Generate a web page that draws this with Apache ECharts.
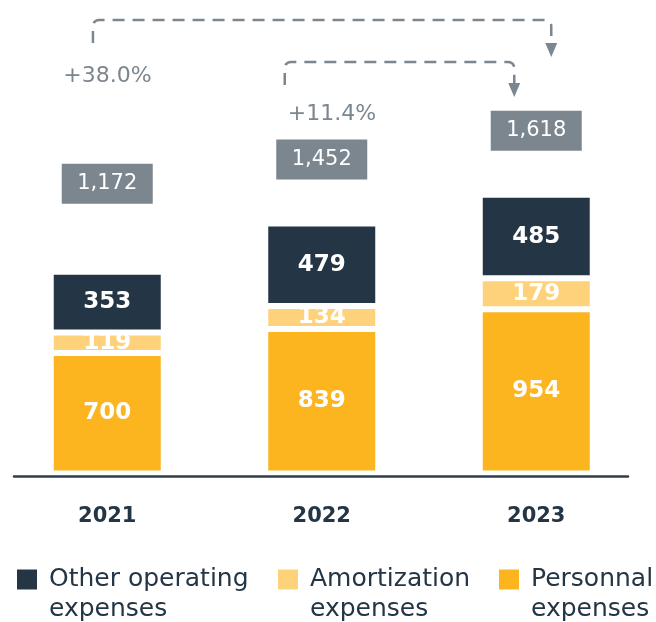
<!DOCTYPE html>
<html><head><meta charset="utf-8">
<script src="https://cdn.jsdelivr.net/npm/echarts@6/dist/echarts.min.js"></script>
<style>html,body{margin:0;padding:0;background:#fff}#c{width:656px;height:622px}</style>
</head><body><div id="c"></div>
<script>
// ---- data ----
const years = ['2021', '2022', '2023'];
const personnel = [700, 839, 954];
const amortization = [119, 134, 179];
const otherOperating = [353, 479, 485];
const totals = [1172, 1452, 1618];
const growthLabels = ['+38.0%', '+11.4%'];
const seriesNames = ['Other operating expenses', 'Amortization expenses', 'Personnal expenses'];

// ---- styles ----
const FONT = 'DejaVu Sans';
const DARK = '#243646';
const LIGHT = '#fed27a';
const ORANGE = '#fdb51f';
const GRAY = '#7c868f';
const totalOffsets = [-88, -64, -64];
const legendLefts = [15, 276, 497];

const chart = echarts.init(document.getElementById('c'), null, {renderer: 'canvas'});

const barCommon = {
  type: 'bar', stack: 'total', barWidth: 113,
  xAxisIndex: 0, yAxisIndex: 0,
  itemStyle: {borderColor: '#fff', borderWidth: 3},
  label: {show: true, position: 'inside', color: '#fff', fontFamily: FONT, fontSize: 23, fontWeight: 'bold'},
  emphasis: {disabled: true}
};

chart.setOption({
  animation: false,
  backgroundColor: '#fff',
  grid: [
    {left: -1.5, right: 12.5, top: 8.5, bottom: 148.5},
    {left: 14, right: 28, top: 10, bottom: 146}
  ],
  xAxis: [
    {type: 'category', gridIndex: 0, data: years,
     axisLine: {show: false}, axisTick: {show: false},
     axisLabel: {color: DARK, fontFamily: FONT, fontSize: 21, fontWeight: 'bold', margin: 33}},
    {type: 'value', gridIndex: 1, min: 0, max: 1,
     axisLine: {show: true, lineStyle: {color: '#2e3e4c', width: 2.5}},
     axisTick: {show: false}, axisLabel: {show: false}, splitLine: {show: false}}
  ],
  yAxis: [
    {type: 'value', gridIndex: 0, min: 0, max: 2700, show: false},
    {type: 'value', gridIndex: 1, min: 0, max: 1, show: false}
  ],
  legend: seriesNames.map((n, i) => ({
    data: [n], left: legendLefts[i], top: 537, padding: 0, selectedMode: false,
    icon: 'rect', itemWidth: 22, itemHeight: 22,
    formatter: name => {
      const parts = name.replace(' expenses', '\nexpenses').split('\n');
      return '{s|}\n' + parts.map(p => '{s|}{t|' + p + '}').join('\n');
    },
    textStyle: {
      rich: {
        s: {width: 6, lineHeight: 30, fontSize: 25, fontFamily: FONT},
        t: {fontFamily: FONT, fontSize: 25, color: DARK, lineHeight: 30}
      }
    }
  })),
  series: [
    Object.assign({}, barCommon, {name: seriesNames[2], data: personnel, itemStyle: Object.assign({}, barCommon.itemStyle, {color: ORANGE})}),
    Object.assign({}, barCommon, {name: seriesNames[1], data: amortization, itemStyle: Object.assign({}, barCommon.itemStyle, {color: LIGHT})}),
    Object.assign({}, barCommon, {name: seriesNames[0], data: otherOperating, itemStyle: Object.assign({}, barCommon.itemStyle, {color: DARK})}),
    {
      type: 'scatter', name: 'total', xAxisIndex: 0, yAxisIndex: 0,
      symbolSize: 1, itemStyle: {color: 'rgba(0,0,0,0)', opacity: 1}, silent: true,
      data: totals.map((v, i) => ({value: v, label: {offset: [0, totalOffsets[i]]}})),
      label: {
        show: true, position: 'inside',
        formatter: p => p.value.toLocaleString('en-US'),
        color: '#fff', fontFamily: FONT, fontSize: 21,
        backgroundColor: GRAY, width: 91, height: 40, lineHeight: 40, align: 'center', verticalAlign: 'middle'
      }
    }
  ]
});

// ---- growth annotations (arrows) ----
const cx = years.map((y, i) => chart.convertToPixel({gridIndex: 0}, [i, 0])[0]);
function corner(cxp, cyp, r, a0, a1) {
  const pts = [];
  for (let k = 0; k <= 6; k++) {
    const a = a0 + (a1 - a0) * k / 6;
    pts.push([cxp + r * Math.cos(a), cyp + r * Math.sin(a)]);
  }
  return pts;
}
function arrow(sx, by, ty, ex, tip) {
  const r = 6, head = 14;
  const pts = [[sx, by]]
    .concat(corner(sx + r, ty + r, r, Math.PI, 1.5 * Math.PI))
    .concat(corner(ex - r, ty + r, r, 1.5 * Math.PI, 2 * Math.PI))
    .concat([[ex, tip - head]]);
  return [
    {type: 'polyline', shape: {points: pts},
     style: {fill: null, stroke: GRAY, lineWidth: 2.5, lineDash: [12, 8]}},
    {type: 'polygon', shape: {points: [[ex - 6, tip - head], [ex + 6, tip - head], [ex, tip]]},
     style: {fill: GRAY}}
  ];
}
const g = [];
g.push(...arrow(cx[0] - 14.3, 43, 20, cx[2] + 15, 57));
g.push(...arrow(cx[1] - 37, 85, 62, cx[2] - 22, 97));
g.push({type: 'text', x: cx[0] - 44, y: 76, style: {text: growthLabels[0], fill: GRAY, font: '22px "' + FONT + '"', verticalAlign: 'middle'}});
g.push({type: 'text', x: cx[1] - 34, y: 114, style: {text: growthLabels[1], fill: GRAY, font: '22px "' + FONT + '"', verticalAlign: 'middle'}});
chart.setOption({graphic: g});
</script>
</body></html>
